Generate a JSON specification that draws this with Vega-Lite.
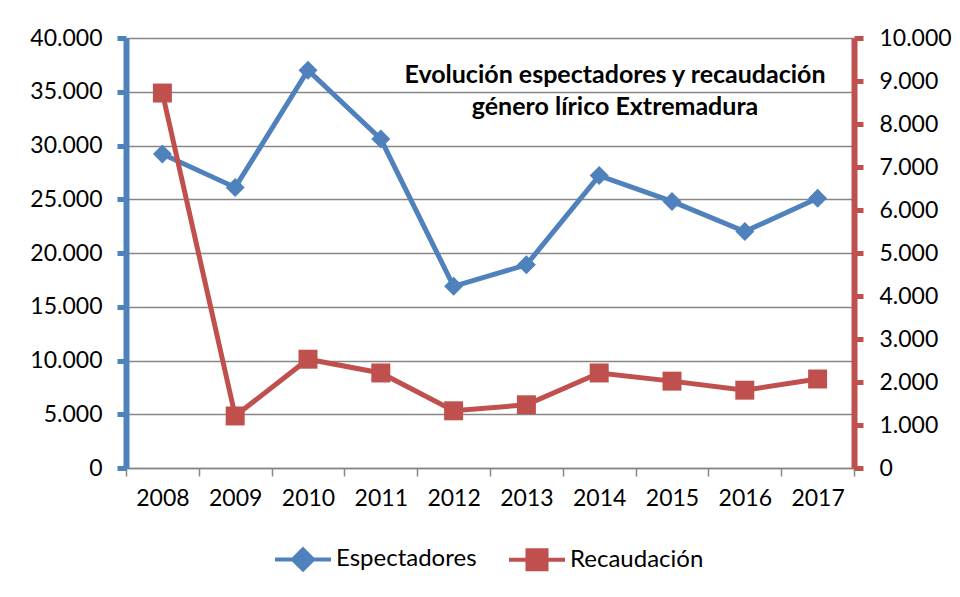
{
  "$schema": "https://vega.github.io/schema/vega-lite/v6.json",
  "width": 728,
  "height": 430,
  "autosize": {"type": "none"},
  "padding": {"left": 126, "top": 38, "right": 106, "bottom": 129},
  "background": "white",
  "config": {
    "locale": {"number": {"decimal": ",", "thousands": ".", "grouping": [3], "currency": ["", " €"]}},
    "font": "Lato",
    "view": {"stroke": null}
  },
  "data": {
    "values": [
      {"year": "2008", "serie": "Espectadores", "valor": 29200},
      {"year": "2009", "serie": "Espectadores", "valor": 26100},
      {"year": "2010", "serie": "Espectadores", "valor": 37000},
      {"year": "2011", "serie": "Espectadores", "valor": 30600},
      {"year": "2012", "serie": "Espectadores", "valor": 16900},
      {"year": "2013", "serie": "Espectadores", "valor": 18900},
      {"year": "2014", "serie": "Espectadores", "valor": 27200},
      {"year": "2015", "serie": "Espectadores", "valor": 24800},
      {"year": "2016", "serie": "Espectadores", "valor": 22000},
      {"year": "2017", "serie": "Espectadores", "valor": 25100},
      {"year": "2008", "serie": "Recaudación", "valor": 8720},
      {"year": "2009", "serie": "Recaudación", "valor": 1210},
      {"year": "2010", "serie": "Recaudación", "valor": 2530},
      {"year": "2011", "serie": "Recaudación", "valor": 2210},
      {"year": "2012", "serie": "Recaudación", "valor": 1330},
      {"year": "2013", "serie": "Recaudación", "valor": 1470},
      {"year": "2014", "serie": "Recaudación", "valor": 2210},
      {"year": "2015", "serie": "Recaudación", "valor": 2020},
      {"year": "2016", "serie": "Recaudación", "valor": 1810},
      {"year": "2017", "serie": "Recaudación", "valor": 2070}
    ]
  },
  "title": {
    "text": ["Evolución espectadores y recaudación", "género lírico Extremadura"],
    "orient": "top",
    "anchor": "middle",
    "frame": "group",
    "align": "center",
    "baseline": "top",
    "offset": -23,
    "dx": 125,
    "dy": 70,
    "lineHeight": 32,
    "font": "Lato",
    "fontSize": 25,
    "fontWeight": "bold",
    "color": "black"
  },
  "encoding": {
    "x": {
      "field": "year",
      "type": "ordinal",
      "bandPosition": 0.5,
      "scale": {"type": "band", "paddingInner": 0, "paddingOuter": 0},
      "axis": {
        "title": null,
        "labelAngle": 0,
        "tickBand": "extent",
        "domainColor": "#868686",
        "domainWidth": 1.5,
        "tickColor": "#868686",
        "tickWidth": 1.5,
        "tickSize": 8,
        "labelPadding": 11,
        "labelFont": "Lato",
        "labelFontSize": 23,
        "labelColor": "black",
        "grid": false
      }
    }
  },
  "layer": [
    {
      "transform": [{"filter": "datum.serie === 'Espectadores'"}],
      "encoding": {
        "y": {
          "field": "valor",
          "type": "quantitative",
          "scale": {"domain": [0, 40000], "nice": false},
          "axis": {
            "orient": "left",
            "title": null,
            "values": [0, 5000, 10000, 15000, 20000, 25000, 30000, 35000, 40000],
            "format": ",d",
            "domainColor": "#4F81BD",
            "domainWidth": 6,
            "tickColor": "#4F81BD",
            "tickWidth": 5,
            "tickSize": 9,
            "labelPadding": 15,
            "labelFont": "Lato",
            "labelFontSize": 23,
            "labelColor": "black",
            "grid": true,
            "gridColor": "#868686",
            "gridWidth": 1.5
          }
        },
        "color": {
          "field": "serie",
          "type": "nominal",
          "scale": {"domain": ["Espectadores", "Recaudación"], "range": ["#4F81BD", "#C0504D"]},
          "legend": {
            "title": null,
            "orient": "none",
            "direction": "horizontal",
            "legendX": 147,
            "legendY": 491,
            "symbolSize": 3136,
            "symbolStrokeWidth": 4,
            "labelFont": "Lato",
            "labelFontSize": 24,
            "labelColor": "black",
            "labelOffset": 3,
            "columnPadding": 24,
            "encode": {
              "symbols": {
                "update": {
                  "shape": {"signal": "datum.value === 'Espectadores' ? 'M-1,0L1,0M0,-0.36L0.36,0L0,0.36L-0.36,0Z' : 'M-1,0L1,0M-0.34,-0.34L0.34,-0.34L0.34,0.34L-0.34,0.34Z'"},
                  "fill": {"signal": "datum.value === 'Espectadores' ? '#4F81BD' : '#C0504D'"},
                  "stroke": {"signal": "datum.value === 'Espectadores' ? '#4F81BD' : '#C0504D'"}
                }
              }
            }
          }
        }
      },
      "layer": [
        {"mark": {"type": "line", "strokeWidth": 5}},
        {"mark": {"type": "point", "shape": "diamond", "filled": true, "size": 360, "opacity": 1}}
      ]
    },
    {
      "transform": [{"filter": "datum.serie === 'Recaudación'"}],
      "encoding": {
        "y": {
          "field": "valor",
          "type": "quantitative",
          "scale": {"domain": [0, 10000], "nice": false},
          "axis": {
            "orient": "right",
            "title": null,
            "values": [0, 1000, 2000, 3000, 4000, 5000, 6000, 7000, 8000, 9000, 10000],
            "format": ",d",
            "domainColor": "#C0504D",
            "domainWidth": 6,
            "tickColor": "#C0504D",
            "tickWidth": 5,
            "tickSize": 9,
            "labelPadding": 16,
            "labelFont": "Lato",
            "labelFontSize": 23,
            "labelColor": "black",
            "grid": false
          }
        },
        "color": {"field": "serie", "type": "nominal", "legend": null}
      },
      "layer": [
        {"mark": {"type": "line", "strokeWidth": 5}},
        {"mark": {"type": "point", "shape": "square", "filled": true, "size": 360, "opacity": 1}}
      ]
    }
  ],
  "resolve": {"scale": {"y": "independent"}}
}
